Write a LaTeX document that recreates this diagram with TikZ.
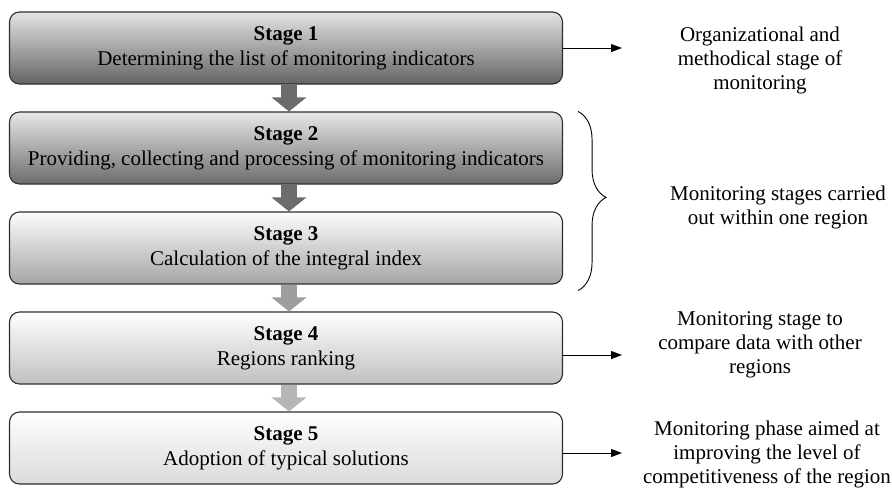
\documentclass[tikz,border=0pt]{standalone}
\usepackage{fontspec}
\setmainfont{Liberation Serif}
\usetikzlibrary{arrows.meta,decorations.pathreplacing}
\definecolor{bordc}{HTML}{2E2E2E}
\definecolor{arrA}{HTML}{6C6C6C}
\definecolor{arrB}{HTML}{9E9E9E}
\definecolor{arrC}{HTML}{B6B6B6}
\tikzset{
  stagebox/.style={draw=bordc, line width=1.1pt, rounded corners=10pt,
    minimum width=553pt, minimum height=72pt, align=center, inner sep=0pt,
    font=\fontsize{21}{25}\selectfont},
  blockarrow/.style={line width=16pt, -{Triangle[width=34pt,length=14pt]}},
  sidearrow/.style={draw=black, line width=0.9pt, -{Triangle[width=8pt,length=11pt]}},
  sidetext/.style={align=center, inner sep=0pt, font=\fontsize{21}{24}\selectfont},
}
\begin{document}
\begin{tikzpicture}[x=1pt,y=1pt]
\useasboundingbox (0,0) rectangle (892,-488);
\node[stagebox, top color={rgb,255:red,228;green,228;blue,228}, middle color={rgb,255:red,176;green,176;blue,176}, bottom color={rgb,255:red,100;green,100;blue,100}]
  (s1) at (286,-48) {\textbf{Stage 1}\\Determining the list of monitoring indicators};
\node[stagebox, top color={rgb,255:red,232;green,232;blue,232}, middle color={rgb,255:red,182;green,182;blue,182}, bottom color={rgb,255:red,108;green,108;blue,108}]
  (s2) at (286,-148) {\textbf{Stage 2}\\Providing, collecting and processing of monitoring indicators};
\node[stagebox, top color={rgb,255:red,252;green,252;blue,252}, middle color={rgb,255:red,224;green,224;blue,224}, bottom color={rgb,255:red,165;green,165;blue,165}]
  (s3) at (286,-248) {\textbf{Stage 3}\\Calculation of the integral index};
\node[stagebox, top color=white, middle color={rgb,255:red,238;green,238;blue,238}, bottom color={rgb,255:red,192;green,192;blue,192}]
  (s4) at (286,-348) {\textbf{Stage 4}\\Regions ranking};
\node[stagebox, top color=white, middle color={rgb,255:red,245;green,245;blue,245}, bottom color={rgb,255:red,218;green,218;blue,218}]
  (s5) at (286,-448) {\textbf{Stage 5}\\Adoption of typical solutions};

\draw[blockarrow, arrA] ([xshift=3pt]s1.south) -- ([xshift=3pt]s2.north);
\draw[blockarrow, arrA] ([xshift=3pt]s2.south) -- ([xshift=3pt]s3.north);
\draw[blockarrow, arrB] ([xshift=3pt]s3.south) -- ([xshift=3pt]s4.north);
\draw[blockarrow, arrC] ([xshift=3pt]s4.south) -- ([xshift=3pt]s5.north);

\node[sidetext] (t1) at (760,-60) {Organizational and\\methodical stage of\\monitoring};
\node[sidetext] (t23) at (778,-207) {Monitoring stages carried\\out within one region};
\node[sidetext] (t4) at (760,-345) {Monitoring stage to\\compare data with other\\regions};
\node[sidetext] (t5) at (767,-454) {Monitoring phase aimed at\\improving the level of\\competitiveness of the region};

\coordinate (a1) at (622,-48);
\coordinate (a4) at (622,-355);
\coordinate (a5) at (622,-453);
\draw[sidearrow] (s1.east |- a1) -- (a1);
\draw[sidearrow] (s4.east |- a4) -- (a4);
\draw[sidearrow] (s5.east |- a5) -- (a5);

\coordinate (b1) at ([xshift=15pt,yshift=0pt]s2.north east);
\coordinate (b2) at ([xshift=15pt,yshift=-6pt]s3.south east);
\draw[line width=0.9pt, decorate, decoration={brace, amplitude=28pt, aspect=0.48}] (b1) -- (b2);
\end{tikzpicture}
\end{document}
